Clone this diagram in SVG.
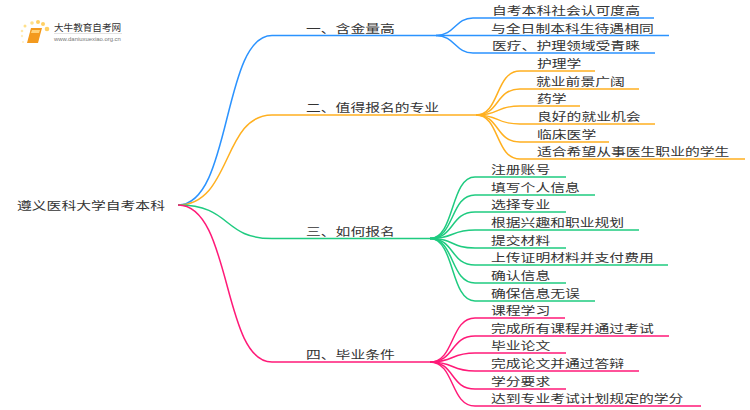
<svg xmlns="http://www.w3.org/2000/svg" width="750" height="410" viewBox="0 0 750 410">
<style>
text{font-family:"Noto Sans CJK SC","Liberation Sans",sans-serif;font-size:14.8px;fill:#333}
path{fill:none;stroke-width:1.5}
.b path{stroke:#2b93ff}.o path{stroke:#ffb020}.g path{stroke:#1fcb80}.p path{stroke:#ff1a78}
</style>
<rect width="750" height="410" fill="#fff"/>
<g id="connectors">
<g class="b">
<path d="M178 205C232 205 222 35.500 272 35.500H436"/>
<path d="M436 35.500C455 35.500 455 18 473 18H654"/>
<path d="M436 35.500H669"/>
<path d="M436 35.500C455 35.500 455 53 473 53H655"/>
</g>
<g class="o">
<path d="M178 205C232 205 222 115 272 115H476"/>
<path d="M476 115C500 115 495 71 520 71H595"/>
<path d="M476 115C500 115 495 89 520 89H639"/>
<path d="M476 115C500 115 495 106 520 106H580"/>
<path d="M476 115C500 115 495 124 520 124H655"/>
<path d="M476 115C500 115 495 142 520 142H609"/>
<path d="M476 115C500 115 495 159 520 159H745"/>
</g>
<g class="g">
<path d="M178 205C232 205 222 238.500 272 238.500H430"/>
<path d="M430 238.500C455 238.500 450 177 475 177H566"/>
<path d="M430 238.500C455 238.500 450 195 475 195H595"/>
<path d="M430 238.500C455 238.500 450 212 475 212H566"/>
<path d="M430 238.500C455 238.500 450 230 475 230H639"/>
<path d="M430 238.500C455 238.500 450 248 475 248H566"/>
<path d="M430 238.500C455 238.500 450 265 475 265H668"/>
<path d="M430 238.500C455 238.500 450 283 475 283H566"/>
<path d="M430 238.500C455 238.500 450 301 475 301H595"/>
</g>
<g class="p">
<path d="M178 205C232 205 222 362 272 362H430"/>
<path d="M430 362C455 362 450 318 475 318H565"/>
<path d="M430 362C455 362 450 336 475 336H669"/>
<path d="M430 362C455 362 450 353 475 353H566"/>
<path d="M430 362C455 362 450 371 475 371H639"/>
<path d="M430 362C455 362 450 389 475 389H566"/>
<path d="M430 362C455 362 450 406 475 406H701"/>
</g>
</g>
<g id="logo">
<circle cx="47" cy="29" r="2.300" fill="#ffd064"/><circle cx="43" cy="24" r="2" fill="#ffd064"/><circle cx="38" cy="22" r="2" fill="#ffd064"/><circle cx="32" cy="23" r="1.800" fill="#ffe08a"/><circle cx="25" cy="26" r="1.500" fill="#ffe08a"/><circle cx="22" cy="31" r="1.300" fill="#ffe8a8"/><circle cx="22" cy="36" r="1.200" fill="#ffeec0"/><circle cx="23" cy="42" r="1" fill="#ffeec0"/>
<polygon points="31,28 42,28 38,43 27,43" fill="#f39a1e"/><polygon points="32,30 40,30 39,33 31,33" fill="#ffd27a"/>
<text x="54" y="31" style="font-size:9.600px">大牛教育自考网</text>
<rect x="54" y="33" width="68" height="0.800" fill="#ddd"/>
<text x="54" y="41" style="font-size:5.900px;fill:#777;font-family:'Liberation Sans',sans-serif">www.daniuxuexiao.org.cn</text>
</g>
<g id="root"><text transform="translate(17 209.500) scale(1 .78)">遵义医科大学自考本科</text></g>
<g id="n1"><text transform="translate(306 32.800) scale(1 .78)">一、含金量高</text></g>
<g id="n1a"><text transform="translate(492 15.300) scale(1 .78)">自考本科社会认可度高</text></g>
<g id="n1b"><text transform="translate(491 32.800) scale(1 .78)">与全日制本科生待遇相同</text></g>
<g id="n1c"><text transform="translate(492 50.300) scale(1 .78)">医疗、护理领域受青睐</text></g>
<g id="n2"><text transform="translate(306 112.300) scale(1 .78)">二、值得报名的专业</text></g>
<g id="n2a"><text transform="translate(537 68.300) scale(1 .78)">护理学</text></g>
<g id="n2b"><text transform="translate(536 86.300) scale(1 .78)">就业前景广阔</text></g>
<g id="n2c"><text transform="translate(537 103.300) scale(1 .78)">药学</text></g>
<g id="n2d"><text transform="translate(537 121.300) scale(1 .78)">良好的就业机会</text></g>
<g id="n2e"><text transform="translate(537 139.300) scale(1 .78)">临床医学</text></g>
<g id="n2f"><text transform="translate(537 156.300) scale(1 .78)">适合希望从事医生职业的学生</text></g>
<g id="n3"><text transform="translate(306 235.800) scale(1 .78)">三、如何报名</text></g>
<g id="n3a"><text transform="translate(491 174.300) scale(1 .78)">注册账号</text></g>
<g id="n3b"><text transform="translate(491 192.300) scale(1 .78)">填写个人信息</text></g>
<g id="n3c"><text transform="translate(491 209.300) scale(1 .78)">选择专业</text></g>
<g id="n3d"><text transform="translate(491 227.300) scale(1 .78)">根据兴趣和职业规划</text></g>
<g id="n3e"><text transform="translate(491 245.300) scale(1 .78)">提交材料</text></g>
<g id="n3f"><text transform="translate(491 262.300) scale(1 .78)">上传证明材料并支付费用</text></g>
<g id="n3g"><text transform="translate(491 280.300) scale(1 .78)">确认信息</text></g>
<g id="n3h"><text transform="translate(491 298.300) scale(1 .78)">确保信息无误</text></g>
<g id="n4"><text transform="translate(306 359.300) scale(1 .78)">四、毕业条件</text></g>
<g id="n4a"><text transform="translate(491 315.300) scale(1 .78)">课程学习</text></g>
<g id="n4b"><text transform="translate(491 333.300) scale(1 .78)">完成所有课程并通过考试</text></g>
<g id="n4c"><text transform="translate(491 350.300) scale(1 .78)">毕业论文</text></g>
<g id="n4d"><text transform="translate(491 368.300) scale(1 .78)">完成论文并通过答辩</text></g>
<g id="n4e"><text transform="translate(491 386.300) scale(1 .78)">学分要求</text></g>
<g id="n4f"><text transform="translate(491 403.300) scale(1 .78)">达到专业考试计划规定的学分</text></g>
</svg>
